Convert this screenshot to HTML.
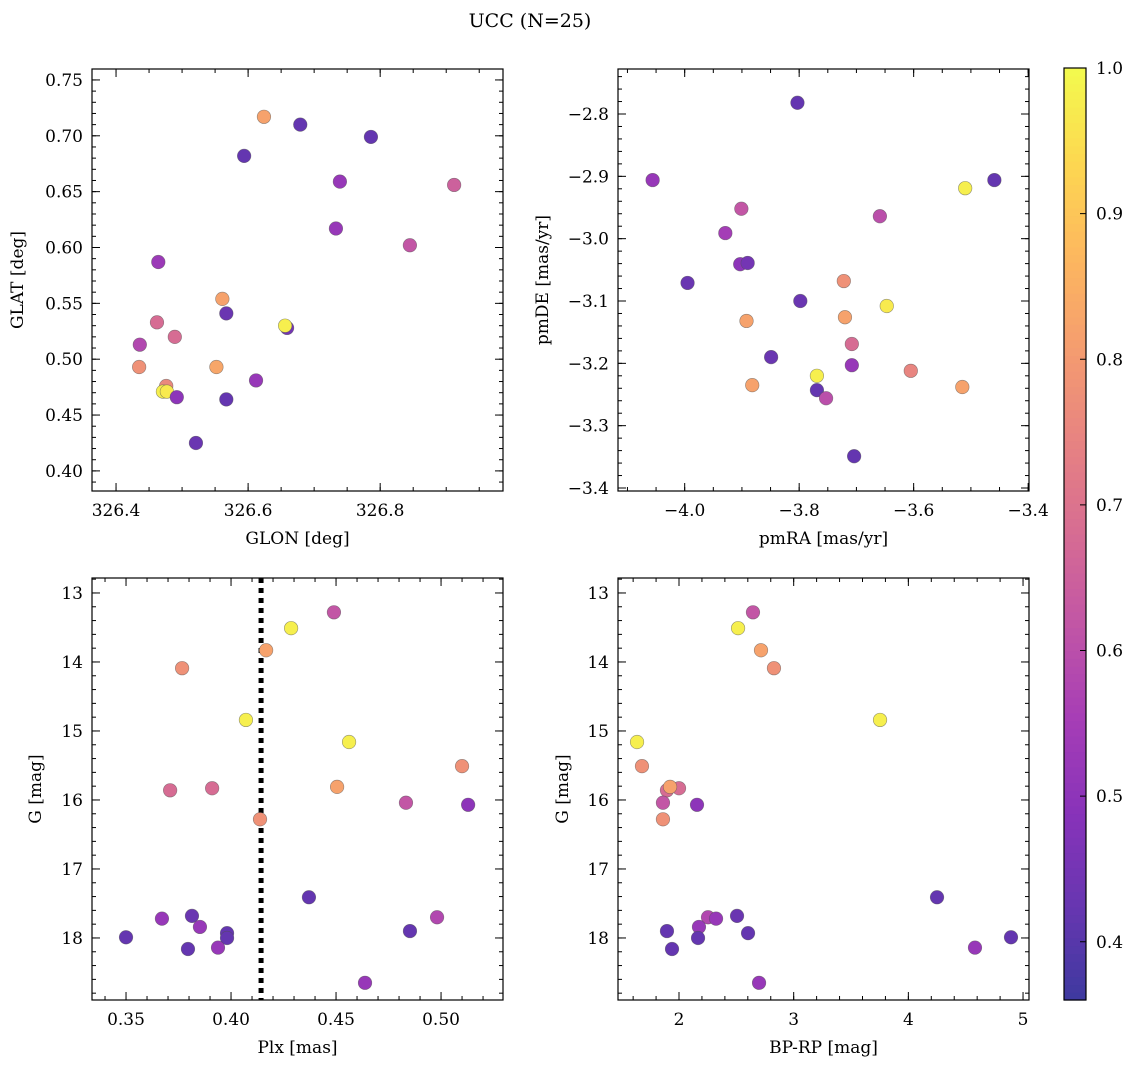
<!DOCTYPE html>
<html><head><meta charset="utf-8"><style>
html,body{margin:0;padding:0;background:#fff;}
svg{display:block;font-family:"DejaVu Serif","Liberation Serif",serif;}
</style></head><body>
<svg id="fig" width="1136" height="1068" xmlns="http://www.w3.org/2000/svg">
<text x="530" y="27" font-size="19" text-anchor="middle">UCC (N=25)</text>
</svg>
<script>
// Panel 1: GLON / GLAT
const glon1=[326.624,326.679,326.786,326.594,326.739,326.912,326.733,326.845,326.464,326.561,326.567,326.659,326.656,326.462,326.489,326.436,326.435,326.552,326.612,326.476,326.471,326.477,326.492,326.567,326.521];
const glat1=[0.717,0.710,0.699,0.682,0.659,0.656,0.617,0.602,0.587,0.554,0.541,0.528,0.530,0.533,0.520,0.513,0.493,0.493,0.481,0.476,0.471,0.471,0.466,0.464,0.425];
const prob1=[0.82,0.42,0.42,0.42,0.52,0.65,0.52,0.62,0.53,0.82,0.43,0.45,0.98,0.68,0.68,0.58,0.78,0.83,0.52,0.76,0.98,0.97,0.50,0.42,0.43];
// Panel 2: pmRA / pmDE
const pmra2=[-3.803,-4.056,-3.459,-3.510,-3.901,-3.659,-3.929,-3.903,-3.890,-3.995,-3.722,-3.647,-3.798,-3.892,-3.720,-3.708,-3.849,-3.605,-3.769,-3.708,-3.882,-3.515,-3.769,-3.753,-3.704];
const pmde2=[-2.782,-2.906,-2.906,-2.919,-2.952,-2.964,-2.991,-3.041,-3.039,-3.071,-3.068,-3.108,-3.100,-3.132,-3.126,-3.169,-3.190,-3.212,-3.220,-3.203,-3.235,-3.238,-3.243,-3.256,-3.349];
const prob2=[0.42,0.52,0.42,0.98,0.62,0.60,0.55,0.50,0.45,0.43,0.78,0.97,0.43,0.82,0.82,0.68,0.43,0.75,0.98,0.52,0.82,0.82,0.42,0.60,0.42];
// Panels 3/4: shared G and probability
const gmag=[13.28,13.51,13.83,14.09,14.84,15.16,15.51,15.86,15.83,15.81,16.04,16.07,16.28,17.41,17.70,17.72,17.68,17.84,17.90,17.93,17.99,18.00,18.16,18.14,18.65];
const plx=[0.449,0.4286,0.4167,0.3767,0.4071,0.4562,0.510,0.371,0.391,0.4505,0.4833,0.5129,0.4138,0.4371,0.4981,0.3671,0.3814,0.3852,0.4852,0.3981,0.35,0.3981,0.3795,0.3938,0.4638];
const bprp=[2.645,2.515,2.715,2.828,3.753,1.634,1.677,1.895,2.0,1.922,1.860,2.157,1.860,4.25,2.253,2.323,2.506,2.174,1.895,2.602,4.895,2.166,1.939,4.581,2.698];
const prob34=[0.62,0.98,0.82,0.78,0.98,0.98,0.78,0.68,0.68,0.82,0.62,0.50,0.78,0.42,0.58,0.52,0.43,0.52,0.42,0.42,0.42,0.42,0.42,0.52,0.52];
const plxLine=0.4143;
const cbTicks=[0.4,0.5,0.6,0.7,0.8,0.9,1.0];

const NS="http://www.w3.org/2000/svg";
const svg=document.getElementById('fig');
const FS=17;
function mk(tag,attrs,parent){const e=document.createElementNS(NS,tag);for(const k in attrs)e.setAttribute(k,attrs[k]);(parent||svg).appendChild(e);return e;}
const stops=[[0,13,8,135],[0.1,65,4,157],[0.2,106,0,168],[0.3,143,13,164],[0.4,177,42,144],[0.5,204,71,120],[0.6,225,100,98],[0.7,242,132,75],[0.8,252,166,54],[0.9,252,206,37],[1,240,249,33]];
const VMIN=0.36,VMAX=1.0,ALPHA=0.8;
function cmap(v){let t=Math.max(0,Math.min(1,(v-VMIN)/(VMAX-VMIN)));let i=0;while(i<stops.length-2&&t>stops[i+1][0])i++;const a=stops[i],b=stops[i+1];const f=(t-a[0])/(b[0]-a[0]);const c=[1,2,3].map(k=>a[k]+(b[k]-a[k])*f).map(x=>Math.round(x*ALPHA+255*(1-ALPHA)));return `rgb(${c[0]},${c[1]},${c[2]})`;}
function fmt(v,d){let s=v.toFixed(d);if(s.startsWith('-'))s='\u2212'+s.slice(1);return s;}

function panel(o){
  const g=mk('g',{});
  
  
  const sx=v=>o.x0+(v-o.xmin)/(o.xmax-o.xmin)*(o.x1-o.x0);
  const sy=o.yinv?(v=>o.y0+(v-o.ymin)/(o.ymax-o.ymin)*(o.y1-o.y0)):(v=>o.y1-(v-o.ymin)/(o.ymax-o.ymin)*(o.y1-o.y0));
  const tk=(a,b,step)=>{const r=[];for(let v=Math.ceil(a/step-1e-6)*step;v<=b+1e-9;v+=step)r.push(+v.toFixed(6));return r;};
  tk(o.xmin,o.xmax,o.xminor).forEach(v=>{const x=sx(v);mk('line',{x1:x,x2:x,y1:o.y1,y2:o.y1-4,stroke:'#000','stroke-width':1},g);mk('line',{x1:x,x2:x,y1:o.y0,y2:o.y0+4,stroke:'#000','stroke-width':1},g);});
  tk(o.ymin,o.ymax,o.yminor).forEach(v=>{const y=sy(v);mk('line',{x1:o.x0,x2:o.x0+4,y1:y,y2:y,stroke:'#000','stroke-width':1},g);mk('line',{x1:o.x1,x2:o.x1-4,y1:y,y2:y,stroke:'#000','stroke-width':1},g);});
  tk(o.xmin,o.xmax,o.xmajor).forEach(v=>{const x=sx(v);mk('line',{x1:x,x2:x,y1:o.y1,y2:o.y1-8,stroke:'#000','stroke-width':1},g);mk('line',{x1:x,x2:x,y1:o.y0,y2:o.y0+8,stroke:'#000','stroke-width':1},g);
    const t=mk('text',{x:x,y:o.y1+25,'font-size':FS,'text-anchor':'middle'},g);t.textContent=fmt(v,o.xd);});
  tk(o.ymin,o.ymax,o.ymajor).forEach(v=>{const y=sy(v);mk('line',{x1:o.x0,x2:o.x0+8,y1:y,y2:y,stroke:'#000','stroke-width':1},g);mk('line',{x1:o.x1,x2:o.x1-8,y1:y,y2:y,stroke:'#000','stroke-width':1},g);
    const t=mk('text',{x:o.x0-9,y:y+6,'font-size':FS,'text-anchor':'end'},g);t.textContent=fmt(v,o.yd);});
  if(o.vline!==undefined){const x=sx(o.vline);const l=mk('line',{x1:x,x2:x,y1:o.y0,y2:o.y1,stroke:'#000','stroke-width':5,'stroke-dasharray':'5,5'},g);}
  o.xs.forEach((v,i)=>{const c=mk('circle',{cx:sx(v),cy:sy(o.ys[i]),r:6.8,fill:cmap(o.cs[i]),stroke:'rgba(80,80,80,0.6)','stroke-width':0.6},g);
    
    });
  const fr=mk('rect',{x:o.x0,y:o.y0,width:o.x1-o.x0,height:o.y1-o.y0,fill:'none',stroke:'#000','stroke-width':1.2},g);
  
  const xl=mk('text',{x:(o.x0+o.x1)/2,y:o.y1+53,'font-size':FS,'text-anchor':'middle'},g);xl.textContent=o.xlabel;
  
  const yx=o.ylx,yy=(o.y0+o.y1)/2;
  const yl=mk('text',{x:yx,y:yy,'font-size':FS,'text-anchor':'middle',transform:`rotate(-90 ${yx} ${yy})`},g);yl.textContent=o.ylabel;
  
}
panel({name:'glon-glat-panel',x0:92,x1:503,y0:69,y1:491,xmin:326.3636,xmax:326.986,ymin:0.382,ymax:0.7598,xmajor:0.2,xminor:0.05,ymajor:0.05,yminor:0.01,xd:1,yd:2,xs:glon1,ys:glat1,cs:prob1,xlabel:'GLON [deg]',ylabel:'GLAT [deg]',ylx:23});
panel({name:'pm-panel',x0:618,x1:1029,y0:69,y1:491,xmin:-4.1165,xmax:-3.3985,ymin:-3.4048,ymax:-2.7278,xmajor:0.2,xminor:0.05,ymajor:0.1,yminor:0.02,xd:1,yd:1,xs:pmra2,ys:pmde2,cs:prob2,xlabel:'pmRA [mas/yr]',ylabel:'pmDE [mas/yr]',ylx:548});
panel({name:'plx-g-panel',x0:92,x1:503,y0:578,y1:1000,xmin:0.3338,xmax:0.5295,ymin:12.783,ymax:18.899,yinv:true,xmajor:0.05,xminor:0.01,ymajor:1,yminor:0.2,xd:2,yd:0,xs:plx,ys:gmag,cs:prob34,xlabel:'Plx [mas]',ylabel:'G [mag]',ylx:41,vline:plxLine});
panel({name:'cmd-panel',x0:618,x1:1029,y0:578,y1:1000,xmin:1.468,xmax:5.052,ymin:12.783,ymax:18.899,yinv:true,xmajor:1,xminor:0.2,ymajor:1,yminor:0.2,xd:0,yd:0,xs:bprp,ys:gmag,cs:prob34,xlabel:'BP-RP [mag]',ylabel:'G [mag]',ylx:568});

// colorbar
(function(){
  const g=mk('g',{});
  const x0=1064,x1=1086,y0=68,y1=1000,N=120;
  const sy=v=>y1-(v-VMIN)/(VMAX-VMIN)*(y1-y0);
  for(let i=0;i<N;i++){const v=VMIN+(VMAX-VMIN)*(i+0.5)/N;const ya=y1-(i+1)*(y1-y0)/N;mk('rect',{x:x0,y:ya,width:x1-x0,height:(y1-y0)/N+0.6,fill:cmap(v)},g);}
  mk('rect',{x:x0,y:y0,width:x1-x0,height:y1-y0,fill:'none',stroke:'#000','stroke-width':1.2},g);
  cbTicks.forEach(v=>{const y=sy(v);mk('line',{x1:x1,x2:x1-6,y1:y,y2:y,stroke:'#000'},g);
    const t=mk('text',{x:x1+10,y:y+6,'font-size':FS},g);t.textContent=v.toFixed(1);});
})();
</script>
</body></html>
